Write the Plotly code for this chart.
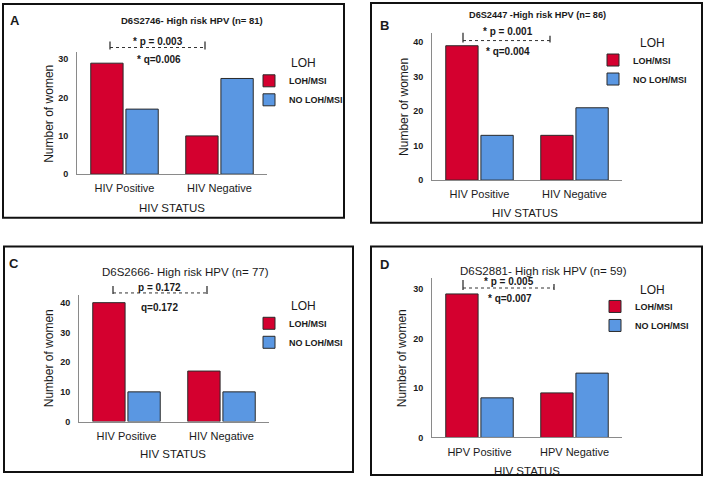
import plotly.graph_objects as go

# ---------------- data ----------------
hiv_status = ["HIV Positive", "HIV Negative"]
hpv_status = ["HPV Positive", "HPV Negative"]

loh_A = [29, 10]
no_loh_A = [17, 25]
loh_B = [39, 13]
no_loh_B = [13, 21]
loh_C = [40, 17]
no_loh_C = [10, 10]
loh_D = [29, 9]
no_loh_D = [8, 13]

ticks_30 = [0, 10, 20, 30]
ticks_40 = [0, 10, 20, 30, 40]

titles = ["D6S2746- High risk HPV (n= 81)", "D6S2447 -High risk HPV (n= 86)",
          "D6S2666- High risk HPV (n= 77)", "D6S2881- High risk HPV (n= 59)"]
p_texts = ["* p = 0.003", "* p = 0.001", "p = 0.172", "* p = 0.005"]
q_texts = ["* q=0.006", "* q=0.004", "q=0.172", "* q=0.007"]
panel_letters = ["A", "B", "C", "D"]
series_names = ["LOH/MSI", "NO LOH/MSI"]
legend_title = "LOH"

# ---------------- style ----------------
W, H = 708, 485
RED = "#D4002F"
BLUE = "#5A97E2"
FONT = "Arial, Liberation Sans, sans-serif"
TXT = "#1a1a1a"


def fx(px):
    return px / W


def fy(py):
    return 1 - py / H


fig = go.Figure()

panels = [
    dict(cats=hiv_status, loh=loh_A, no=no_loh_A, ticks=ticks_30, x0=77, x1=267, yt=53, yb=176, ymax=31.8),
    dict(cats=hiv_status, loh=loh_B, no=no_loh_B, ticks=ticks_40, x0=432, x1=622, yt=33, yb=182, ymax=42.8),
    dict(cats=hiv_status, loh=loh_C, no=no_loh_C, ticks=ticks_40, x0=79, x1=269, yt=298, yb=426, ymax=42.6),
    dict(cats=hpv_status, loh=loh_D, no=no_loh_D, ticks=ticks_30, x0=432, x1=622, yt=281, yb=442, ymax=32.2),
]

for i, p in enumerate(panels):
    n = "" if i == 0 else str(i + 1)
    leg = "legend" + n
    for name, vals, col in [(series_names[0], p["loh"], RED), (series_names[1], p["no"], BLUE)]:
        fig.add_trace(go.Bar(
            x=p["cats"], y=vals, name=name,
            marker=dict(color=col, line=dict(color="#2a2a2a", width=1)),
            xaxis="x" + n, yaxis="y" + n, legend=leg, showlegend=True,
        ))
    fig.layout["xaxis" + n] = dict(
        domain=[fx(p["x0"]), fx(p["x1"])], anchor="y" + n,
        range=[-0.5, 1.5], showline=True, linecolor="#8a8a8a", linewidth=1,
        showgrid=False, ticks="", zeroline=False, fixedrange=True,
        tickfont=dict(family=FONT, size=11, color=TXT), ticklabelstandoff=4,
    )
    fig.layout["yaxis" + n] = dict(
        domain=[fy(p["yb"]), fy(p["yt"])], anchor="x" + n,
        range=[0, p["ymax"]], showline=True, linecolor="#8a8a8a", linewidth=1,
        showgrid=False, ticks="", zeroline=False, tickvals=p["ticks"],
        tickfont=dict(family=FONT, size=9, color=TXT, weight="bold"),
        ticklabelstandoff=6,
    )

# legends
leg_pos = [(249, 67), (593, 46), (249, 312), (595, 295)]
for i, (lx, ly) in enumerate(leg_pos):
    key = "legend" if i == 0 else "legend" + str(i + 1)
    fig.layout[key] = dict(
        x=fx(lx), y=fy(ly), xanchor="left", yanchor="top",
        bgcolor="rgba(0,0,0,0)", borderwidth=0,
        font=dict(family=FONT, size=9, color=TXT, weight="bold"),
        tracegroupgap=0, itemclick=False, itemdoubleclick=False,
    )

# panel frames
frames = [(3, 4, 344, 220), (371, 3, 702, 225), (4, 249, 353, 477), (371, 249, 702, 480)]
for (x0, y0, x1, y1) in frames:
    fig.add_shape(type="rect", xref="paper", yref="paper",
                  x0=fx(x0), x1=fx(x1), y0=fy(y0), y1=fy(y1),
                  line=dict(color="#111", width=2), fillcolor="rgba(0,0,0,0)")

# significance brackets: (left x, left y0, left y1, right x, right y0, right y1, dotted y)
brackets = [(110, 42, 50, 205, 42, 50, 48), (463, 33, 43, 550, 36, 43, 41),
            (113, 289, 297, 207, 289, 297, 296), (463, 283, 293, 554, 287, 293, 291)]
for (lx, ly0, ly1, rx, ry0, ry1, dy) in brackets:
    fig.add_shape(type="line", xref="paper", yref="paper", x0=fx(lx), x1=fx(lx), y0=fy(ly0), y1=fy(ly1),
                  line=dict(color="#222", width=1.2))
    fig.add_shape(type="line", xref="paper", yref="paper", x0=fx(rx), x1=fx(rx), y0=fy(ry0), y1=fy(ry1),
                  line=dict(color="#222", width=1.2))
    fig.add_shape(type="line", xref="paper", yref="paper", x0=fx(lx), x1=fx(rx), y0=fy(dy), y1=fy(dy),
                  line=dict(color="#333", width=1, dash="dot"))


def ann(text, x, y, size, bold=False, xanchor="center", angle=0):
    fig.add_annotation(
        text=("<b>%s</b>" % text) if bold else text, x=fx(x), y=fy(y), xref="paper", yref="paper",
        xanchor=xanchor, yanchor="middle", showarrow=False, textangle=angle,
        font=dict(family=FONT, size=size, color=TXT),
    )


# letters
for letter, (x, y) in zip(panel_letters, [(15, 21), (385, 26), (14, 266), (385, 267)]):
    ann(letter, x, y, 13, bold=True)

# titles
ann(titles[0], 192, 21, 9.5, bold=True)
ann(titles[1], 537, 15, 9.2, bold=True)
ann(titles[2], 185, 275, 11.5)
ann(titles[3], 543, 274, 11.5)

# p / q texts
for t, (x, y) in zip(p_texts, [(158, 42), (508, 32), (159, 290), (509, 284)]):
    ann(t, x, y, 10, bold=True)
for t, (x, y) in zip(q_texts, [(159, 60), (508, 52), (159, 311), (510, 302)]):
    ann(t, x, y, 10, bold=True)

# legend titles
for (x, y) in [(303, 64), (652, 43), (303, 309), (652, 293)]:
    ann(legend_title, x, y, 12)

# axis titles
for (x, y) in [(49, 115), (404, 108), (49, 362), (402, 362)]:
    ann("Number of women", x, y, 12, angle=-90)
for (x, y) in [(172, 210), (525, 215), (173, 459), (527, 476)]:
    ann("HIV STATUS", x, y, 11.5)

fig.update_layout(
    width=W, height=H, margin=dict(l=0, r=0, t=0, b=0),
    paper_bgcolor="white", plot_bgcolor="white",
    barmode="group", bargap=0.26, bargroupgap=0.08,
    font=dict(family=FONT, color=TXT),
)

fig.write_html("out.html", config={"displayModeBar": False},
               post_script="document.body.style.margin='0';")
